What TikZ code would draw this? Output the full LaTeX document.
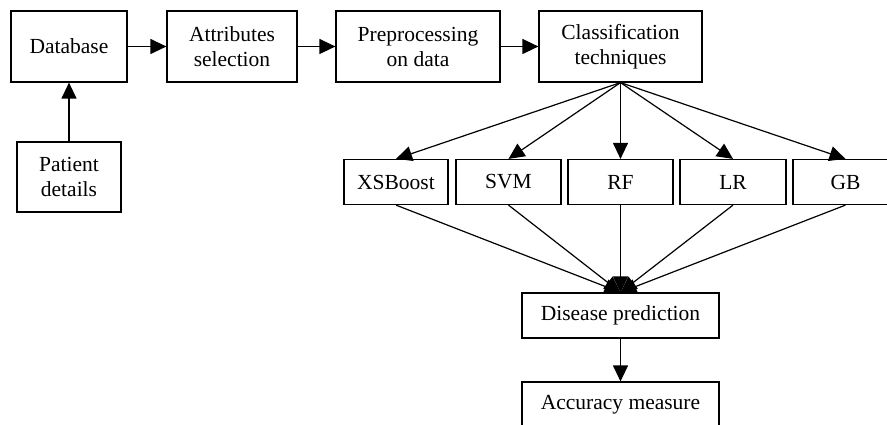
\documentclass[tikz,border=0pt]{standalone}
\usepackage{fontspec}
\setmainfont{Liberation Serif}
\usetikzlibrary{arrows.meta}
\begin{document}
\begin{tikzpicture}[x=1pt,y=-1pt,
  box/.style={draw,line width=1.2pt,inner sep=0pt,align=center,font=\fontsize{21.5}{25}\selectfont},
  arr/.style={line width=1.2pt,-{Triangle[length=16pt,width=15pt]}},
  ln/.style={line width=1.2pt}]
\useasboundingbox (0,0) rectangle (887,425);
\clip (0,0) rectangle (887,425);
\node[box,minimum width=116pt,minimum height=71pt] (db) at (69,46.5) {Database};
\node[box,minimum width=130pt,minimum height=71pt] (attr) at (232,46.5) {Attributes\\selection};
\node[box,minimum width=164pt,minimum height=71pt] (pre) at (418,46.5) {Preprocessing\\on data};
\node[box,minimum width=163pt,minimum height=71pt] (cls) at (620.5,46.5) {Classification\\techniques};
\node[box,minimum width=104pt,minimum height=70pt] (pat) at (69,177) {Patient\\details};
\node[box,minimum width=104pt,minimum height=45pt] (xs) at (396,182) {XSBoost};
\node[box,minimum width=105pt,minimum height=45pt] (svm) at (508.5,182) {SVM};
\node[box,minimum width=105pt,minimum height=45pt] (rf) at (620.5,182) {RF};
\node[box,minimum width=106pt,minimum height=45pt] (lr) at (733,182) {LR};
\node[box,minimum width=105pt,minimum height=45pt] (gb) at (845.5,182) {GB};
\node[box,minimum width=197pt,minimum height=45pt] (dis) at (620.5,315.5) {Disease prediction};
\node[box,minimum width=197pt,minimum height=46pt] (acc) at (620.5,405) {Accuracy measure};
\draw[arr] (db) -- (attr);
\draw[arr] (attr) -- (pre);
\draw[arr] (pre) -- (cls);
\draw[arr] (pat) -- (db);
\foreach \n in {xs,svm,rf,lr,gb}{
  \draw[arr] (cls.south) -- (\n.north);
  \draw[arr] (\n.south) -- (dis.north);
}
\draw[arr] (dis) -- (acc);
\end{tikzpicture}
\end{document}
